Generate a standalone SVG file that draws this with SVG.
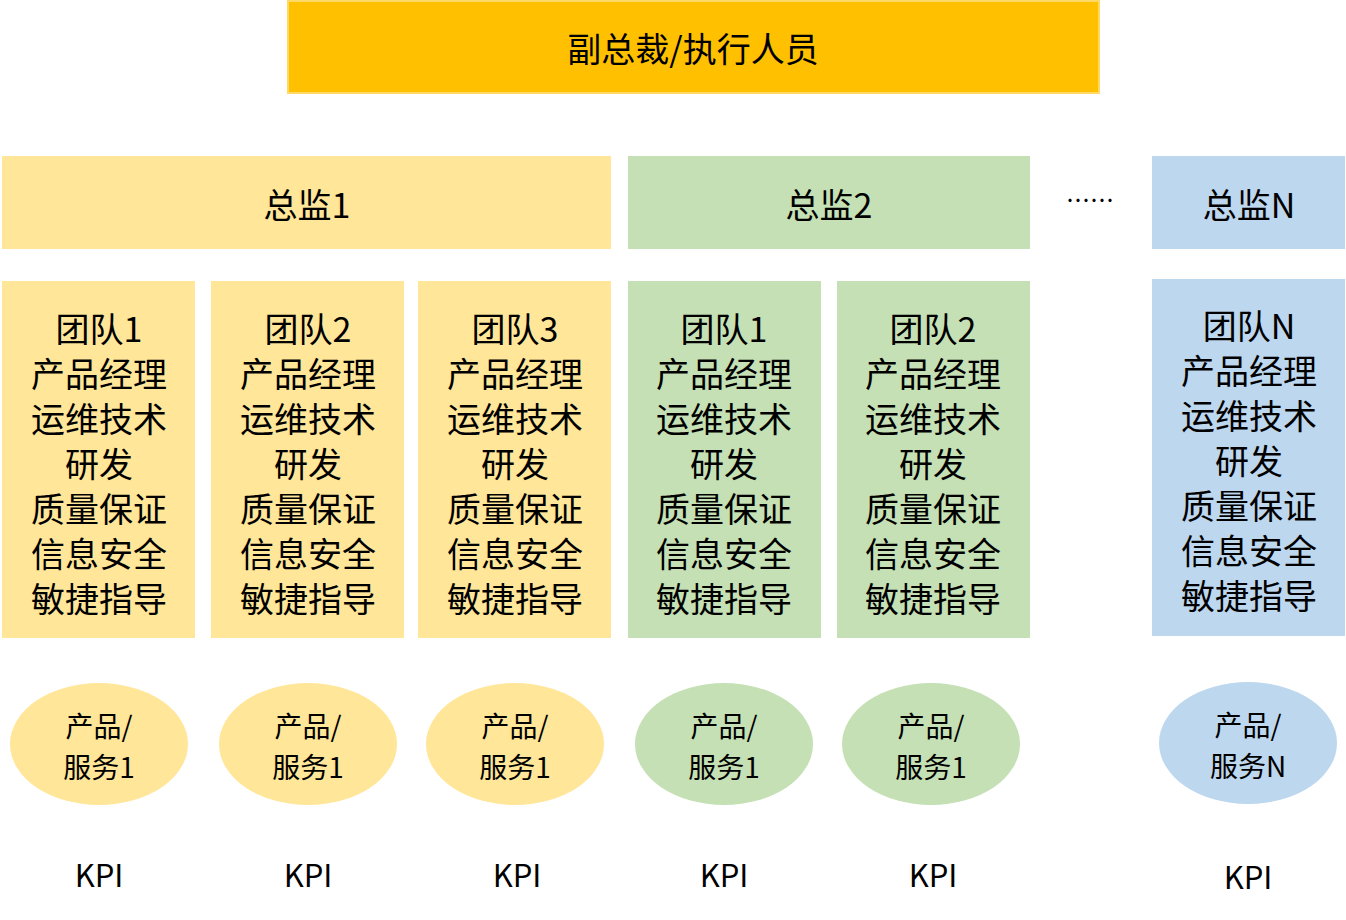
<svg xmlns="http://www.w3.org/2000/svg" width="1346" height="920" viewBox="0 0 1346 920">
<style>
text{font-family:"Noto Sans CJK SC","Noto Sans",sans-serif;fill:#000;text-anchor:middle;dominant-baseline:central}
.y{fill:#FFE699}.g{fill:#C5E0B4}.b{fill:#BDD7EE}
.t{font-size:34px}.e{font-size:28px}.k{font-size:31px}
</style>
<rect width="1346" height="920" fill="#fff"/>
<g id="top"><rect x="288" y="1" width="811" height="92" fill="#FFC000" stroke="#FFD966" stroke-width="2"/><text x="693" y="47" font-size="34">副总裁/执行人员</text></g>
<g id="d1"><rect class="y" x="2" y="156" width="609" height="93"/><text x="307" y="203" class="t">总监1</text></g>
<g id="d2"><rect class="g" x="628" y="156" width="402" height="93"/><text x="829" y="203" class="t">总监2</text></g>
<text x="1090" y="198" font-size="24">……</text>
<g id="dN"><rect class="b" x="1152" y="156" width="193" height="93"/><text x="1249" y="203" class="t">总监N</text></g>
<g id="t1"><rect class="y" x="2" y="281" width="193" height="357"/><text class="t" x="99" y="327">团队1</text><text class="t" x="99" y="372">产品经理</text><text class="t" x="99" y="417">运维技术</text><text class="t" x="99" y="462">研发</text><text class="t" x="99" y="507">质量保证</text><text class="t" x="99" y="552">信息安全</text><text class="t" x="99" y="597">敏捷指导</text></g>
<g id="t2"><rect class="y" x="211" y="281" width="193" height="357"/><text class="t" x="308" y="327">团队2</text><text class="t" x="308" y="372">产品经理</text><text class="t" x="308" y="417">运维技术</text><text class="t" x="308" y="462">研发</text><text class="t" x="308" y="507">质量保证</text><text class="t" x="308" y="552">信息安全</text><text class="t" x="308" y="597">敏捷指导</text></g>
<g id="t3"><rect class="y" x="418" y="281" width="193" height="357"/><text class="t" x="515" y="327">团队3</text><text class="t" x="515" y="372">产品经理</text><text class="t" x="515" y="417">运维技术</text><text class="t" x="515" y="462">研发</text><text class="t" x="515" y="507">质量保证</text><text class="t" x="515" y="552">信息安全</text><text class="t" x="515" y="597">敏捷指导</text></g>
<g id="t4"><rect class="g" x="628" y="281" width="193" height="357"/><text class="t" x="724" y="327">团队1</text><text class="t" x="724" y="372">产品经理</text><text class="t" x="724" y="417">运维技术</text><text class="t" x="724" y="462">研发</text><text class="t" x="724" y="507">质量保证</text><text class="t" x="724" y="552">信息安全</text><text class="t" x="724" y="597">敏捷指导</text></g>
<g id="t5"><rect class="g" x="837" y="281" width="193" height="357"/><text class="t" x="933" y="327">团队2</text><text class="t" x="933" y="372">产品经理</text><text class="t" x="933" y="417">运维技术</text><text class="t" x="933" y="462">研发</text><text class="t" x="933" y="507">质量保证</text><text class="t" x="933" y="552">信息安全</text><text class="t" x="933" y="597">敏捷指导</text></g>
<g id="t6"><rect class="b" x="1152" y="279" width="193" height="357"/><text class="t" x="1249" y="324">团队N</text><text class="t" x="1249" y="369">产品经理</text><text class="t" x="1249" y="414">运维技术</text><text class="t" x="1249" y="459">研发</text><text class="t" x="1249" y="504">质量保证</text><text class="t" x="1249" y="549">信息安全</text><text class="t" x="1249" y="594">敏捷指导</text></g>
<g id="e1"><ellipse class="y" cx="99" cy="744" rx="89" ry="61"/><text class="e" x="99" y="725">产品/</text><text class="e" x="99" y="766">服务1</text></g>
<g id="e2"><ellipse class="y" cx="308" cy="744" rx="89" ry="61"/><text class="e" x="308" y="725">产品/</text><text class="e" x="308" y="766">服务1</text></g>
<g id="e3"><ellipse class="y" cx="515" cy="744" rx="89" ry="61"/><text class="e" x="515" y="725">产品/</text><text class="e" x="515" y="766">服务1</text></g>
<g id="e4"><ellipse class="g" cx="724" cy="744" rx="89" ry="61"/><text class="e" x="724" y="725">产品/</text><text class="e" x="724" y="766">服务1</text></g>
<g id="e5"><ellipse class="g" cx="931" cy="744" rx="89" ry="61"/><text class="e" x="931" y="725">产品/</text><text class="e" x="931" y="766">服务1</text></g>
<g id="e6"><ellipse class="b" cx="1248" cy="743" rx="89" ry="61"/><text class="e" x="1248" y="724">产品/</text><text class="e" x="1248" y="765">服务N</text></g>
<g id="kpi"><text class="k" x="99" y="873">KPI</text><text class="k" x="308" y="873">KPI</text><text class="k" x="517" y="873">KPI</text><text class="k" x="724" y="873">KPI</text><text class="k" x="933" y="873">KPI</text><text class="k" x="1248" y="875">KPI</text></g>
<g id="connectors"/>
</svg>
